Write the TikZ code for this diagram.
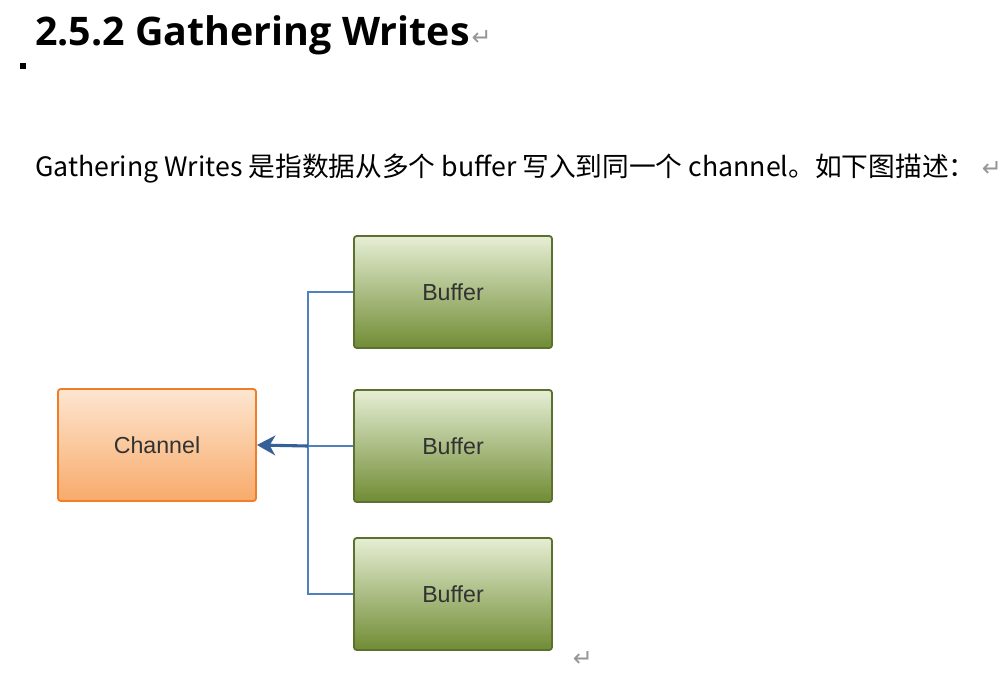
\documentclass[tikz,border=0pt]{standalone}
\usepackage{fontspec}
\newfontfamily\cjk{Noto Sans CJK SC}
\newfontfamily\headfont{Open Sans}
\newfontfamily\boxfont{Liberation Sans}
\newfontfamily\symfont{DejaVu Sans}
\usepackage{xcolor}
\definecolor{bufftop}{RGB}{230,238,212}
\definecolor{buffbot}{RGB}{112,140,52}
\definecolor{buffline}{RGB}{92,112,48}
\definecolor{chantop}{RGB}{253,230,208}
\definecolor{chanbot}{RGB}{248,170,106}
\definecolor{chanline}{RGB}{240,125,40}
\definecolor{busblue}{RGB}{79,129,189}
\definecolor{arrblue}{RGB}{55,96,150}
\definecolor{boxtext}{RGB}{50,50,50}
\definecolor{markgray}{RGB}{150,150,150}
\usetikzlibrary{arrows.meta,positioning}

\begin{document}
\begin{tikzpicture}[x=0.025cm, y=-0.025cm,
  bbox/.style={rectangle, rounded corners=2pt, draw=buffline, line width=1.3pt,
               top color=bufftop, bottom color=buffbot,
               minimum width=4.95cm, minimum height=2.8cm,
               font=\boxfont\fontsize{16.5}{18}\selectfont, text=boxtext},
  cbox/.style={rectangle, rounded corners=2pt, draw=chanline, line width=1.3pt,
               top color=chantop, bottom color=chanbot,
               minimum width=4.95cm, minimum height=2.8cm,
               font=\boxfont\fontsize{16.5}{18}\selectfont, text=boxtext},
  bus/.style={draw=busblue, line width=1.4pt},
  barr/.style={-{Stealth[length=13pt, width=14pt, inset=4pt]}, draw=arrblue, fill=arrblue, line width=2.2pt},
  retmark/.style={font=\symfont\fontsize{17}{17}\selectfont, text=markgray, inner sep=0pt}
]
\useasboundingbox[fill=white] (0,0) rectangle (1006,672);

% Heading and text
\node[anchor=base west, inner sep=0pt, font=\headfont\bfseries\fontsize{28}{30}\selectfont] (title) at (35,45) {2.5.2 Gathering Writes};
\node[retmark, anchor=base west] (ret1) at ([xshift=1pt]title.base east) {↵};
\fill (20,63) rectangle (26,69);
\node[anchor=base west, inner sep=0pt, font=\cjk\fontsize{19}{21}\selectfont] (intro) at (35,176) {Gathering Writes 是指数据从多个 buffer 写入到同一个 channel。如下图描述：};
\node[retmark, anchor=base west] (ret2) at ([xshift=4pt]intro.base east) {↵};

% Boxes
\node[cbox] (chan) at (157,445) {Channel};
\node[bbox] (buf1) at (453,292) {Buffer};
\node[bbox] (buf2) at (453,446) {Buffer};
\node[bbox] (buf3) at (453,594) {Buffer};
\node[retmark, anchor=base] (ret3) at (583,666) {↵};

% Connectors
\coordinate (join) at (308,446);
\draw[bus] (buf1.west) -| (join) |- (buf3.west);
\draw[bus] (buf2.west) -- (join);
\draw[barr] (join) -- (chan.east);
\end{tikzpicture}
\end{document}
